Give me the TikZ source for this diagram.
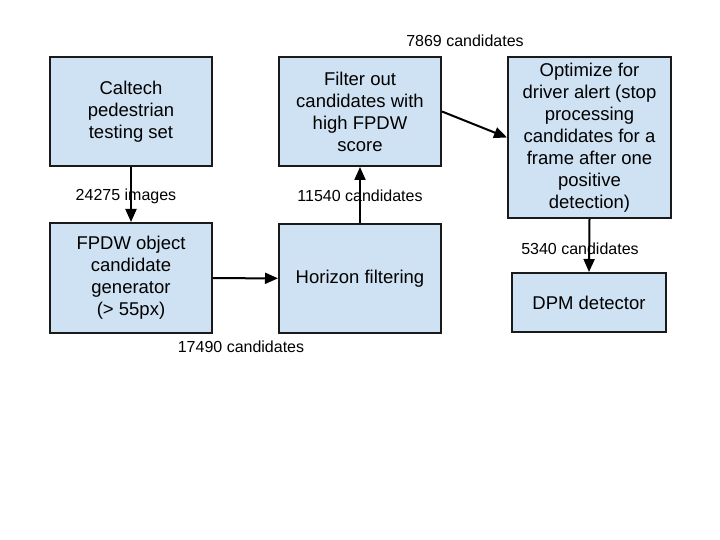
\documentclass[tikz,border=0pt]{standalone}
\usepackage{fontspec}
\setmainfont{Liberation Sans}
\usetikzlibrary{arrows.meta}
\definecolor{boxfill}{HTML}{CFE2F3}
\definecolor{boxline}{HTML}{1A1A1A}
\tikzset{
  stage/.style={draw=boxline, fill=boxfill, line width=2pt, align=center,
    inner sep=0pt, font=\fontsize{18.5}{22}\selectfont},
  flow/.style={draw=black, line width=2pt, -{Triangle[length=13pt,width=11pt]}},
  lab/.style={font=\fontsize{16}{19}\selectfont, inner sep=0pt}
}
\begin{document}
\begin{tikzpicture}[x=1pt,y=-1pt]
\useasboundingbox (0,0) rectangle (720,540);
\node[stage, minimum width=162pt, minimum height=109pt] (cal) at (131,111.5) {Caltech\\pedestrian\\testing set};
\node[stage, minimum width=162pt, minimum height=110pt] (fpdw) at (131,278) {FPDW object\\candidate\\generator\\(> 55px)};
\node[stage, minimum width=162pt, minimum height=109pt] (hor) at (360,278.5) {Horizon filtering};
\node[stage, minimum width=162pt, minimum height=109pt] (fil) at (360,111.5) {Filter out\\candidates with\\high FPDW\\score};
\node[stage, minimum width=163pt, minimum height=161pt] (opt) at (589.5,137.5) {Optimize for\\driver alert (stop\\processing\\candidates for a\\frame after one\\positive\\detection)};
\node[stage, minimum width=154pt, minimum height=59pt] (dpm) at (589,302.5) {DPM detector};

\node[lab] (l1) at (126,196) {24275 images};
\node[lab] (l2) at (241,347) {17490 candidates};
\node[lab] (l3) at (360,196) {11540 candidates};
\node[lab] (l4) at (465,41) {7869 candidates};
\node[lab] (l5) at (580,249) {5340 candidates};

\draw[flow] (cal) -- (fpdw);
\draw[flow] (fpdw) -- (hor);
\draw[flow] (hor) -- (fil);
\draw[flow] (fil.east) -- (opt.west);
\draw[flow] (opt.south) -- (dpm.north);
\end{tikzpicture}
\end{document}
